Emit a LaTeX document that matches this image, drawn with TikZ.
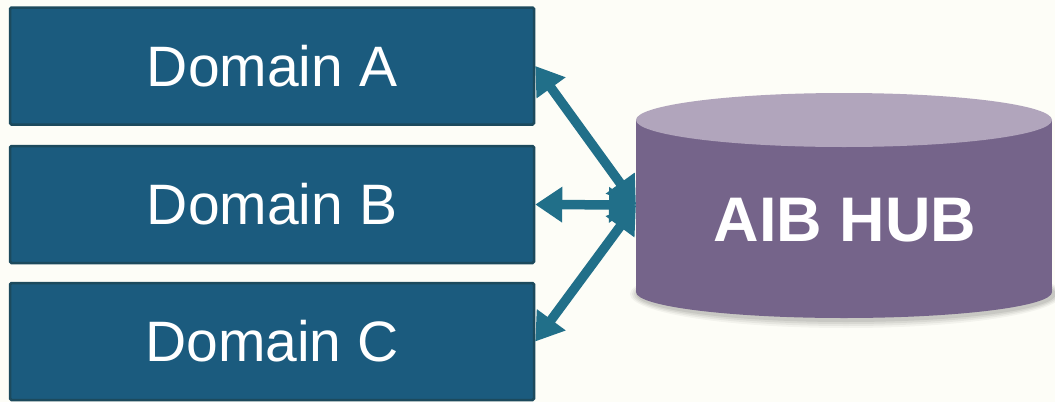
\documentclass[tikz,border=0pt]{standalone}
\usepackage{fontspec}
\setmainfont{Liberation Sans}
\usetikzlibrary{arrows.meta}
\definecolor{bgc}{HTML}{FDFDF7}
\definecolor{boxfill}{HTML}{1B5B7E}
\definecolor{boxedge}{HTML}{1C4A5D}
\definecolor{arrowc}{HTML}{216F89}
\definecolor{cylside}{HTML}{75648A}
\definecolor{cyltop}{HTML}{B1A5BC}
\tikzset{
  domainbox/.style={rectangle, fill=boxfill, draw=boxedge, line width=2.5pt,
    rounded corners=1.5pt, minimum width=524pt, minimum height=117pt, inner sep=0pt,
    text=white, font=\fontsize{57}{60}\selectfont},
  hubtext/.style={text=white, font=\fontsize{63}{66}\selectfont\bfseries, inner sep=0pt},
  conn/.style={draw=arrowc, line width=9.5pt,
    {Triangle[length=27pt,width=34pt]}-{Triangle[length=27pt,width=34pt]}},
}
\begin{document}
\begin{tikzpicture}[x=1pt,y=-1pt]
\fill[bgc] (0,0) rectangle (1055,402);
\useasboundingbox (0,0) rectangle (1055,402);
% domains
\node[domainbox] (A) at (272,66) {Domain A};
\node[domainbox] (B) at (272,204.5) {Domain B};
\node[domainbox] (C) at (272,341.5) {Domain C};
% cylinder shadow
\foreach \o/\op in {8/0.04,6/0.05,4/0.06,2/0.07}{
  \fill[black,opacity=\op] (846,294) ellipse[x radius={208pt+\o pt}, y radius={26pt+\o pt}];
}
% cylinder
\fill[cylside] (844,292) ellipse[x radius=208pt, y radius=26pt];
\fill[cylside] (636,120) rectangle (1052,292);
\fill[cyltop] (844,120) ellipse[x radius=208pt, y radius=27pt];
\node[hubtext] (hub) at (845,220) {AIB HUB};
\coordinate (hubW) at (636,205);
% connectors
\draw[conn] (hubW) -- (A.east);
\draw[conn] (hubW) -- (B.east);
\draw[conn] (hubW) -- (C.east);
\end{tikzpicture}
\end{document}
